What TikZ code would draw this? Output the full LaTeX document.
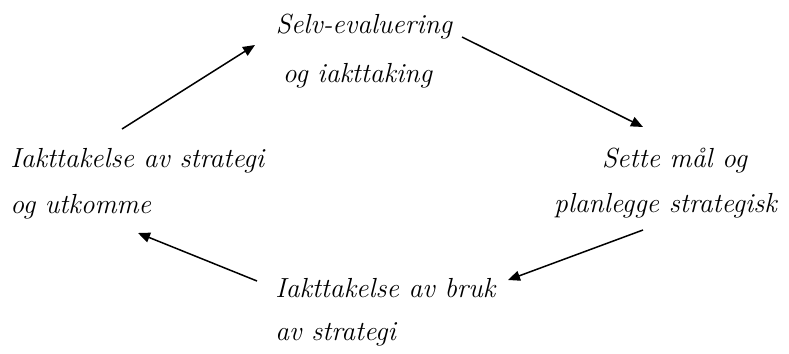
\documentclass[tikz,border=0pt]{standalone}
\usetikzlibrary{arrows.meta}
\begin{document}
\begin{tikzpicture}[x=0.5pt, y=-0.5pt,
      lbl/.style={inner sep=0pt, font=\fontsize{13.8}{16}\selectfont\itshape},
      pil/.style={line width=0.75pt, -{Triangle[length=6pt, width=5pt]}}]
   \useasboundingbox (0,0) rectangle (789,354);
   % top
   \node[lbl, anchor=base] (top1) at (364,33) {Selv-evaluering};
   \node[lbl, anchor=base] (top2) at (357.5,82) {og iakttaking};
   % right
   \node[lbl, anchor=base] (right1) at (674.5,167) {Sette mål og};
   \node[lbl, anchor=base] (right2) at (665.5,212) {planlegge strategisk};
   % bottom
   \node[lbl, anchor=base west] (bottom1) at (275,297) {Iakttakelse av bruk};
   \node[lbl, anchor=base west] (bottom2) at (275,340) {av strategi};
   % left
   \node[lbl, anchor=base west] (left1) at (10,167) {Iakttakelse av strategi};
   \node[lbl, anchor=base west] (left2) at (10,213) {og utkomme};
   % arrow ends
   \coordinate (a1) at (122,129);
   \coordinate (b1) at (255,45);
   \coordinate (a2) at (462,37);
   \coordinate (b2) at (643,127);
   \coordinate (a3) at (643,230);
   \coordinate (b3) at (508,280);
   \coordinate (a4) at (257,281);
   \coordinate (b4) at (138,233);
   \draw[pil] (a1) -- (b1);
   \draw[pil] (a2) -- (b2);
   \draw[pil] (a3) -- (b3);
   \draw[pil] (a4) -- (b4);
\end{tikzpicture}
\end{document}
